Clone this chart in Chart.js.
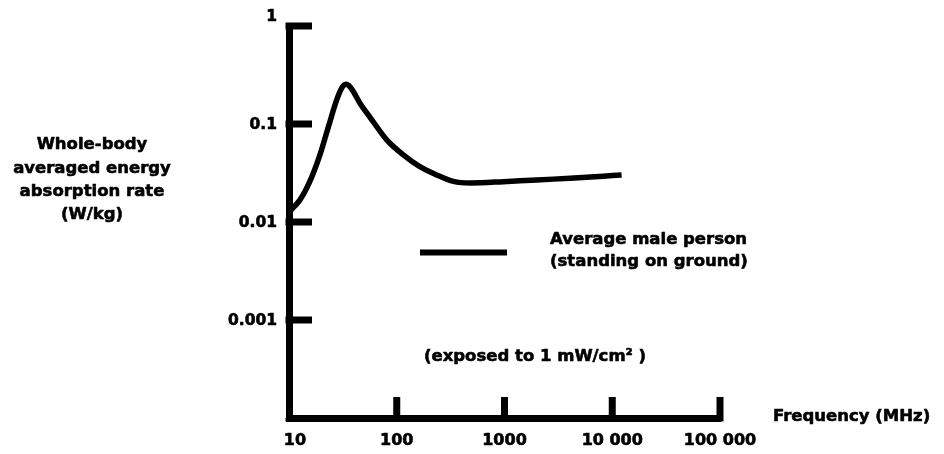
<!DOCTYPE html>
<html>
<head>
<meta charset="utf-8">
<script src="https://cdn.jsdelivr.net/npm/chart.js@4/dist/chart.umd.min.js"></script>
<style>
html,body{margin:0;padding:0;background:#fff;}
#c{display:block;}
</style>
</head>
<body>
<canvas id="c" width="944" height="454"></canvas>
<script>
// ---- data ----
const frequencyMHz = [10, 12.5, 15.5, 19.2, 23.5, 27.5, 31, 33.8, 37, 41, 46, 56.5, 80.7, 115, 164, 235, 335, 479, 975, 1990, 4055, 8260, 12200];
const sarWkg = [0.0127, 0.0165, 0.0255, 0.0470, 0.098, 0.172, 0.235, 0.254, 0.238, 0.200, 0.160, 0.117, 0.0689, 0.0484, 0.0367, 0.0302, 0.0260, 0.0250, 0.0258, 0.0269, 0.0279, 0.0293, 0.0302];

const xTickValues = [10, 100, 1000, 10000, 100000];
const xTickLabels = ['10', '100', '1000', '10 000', '100 000'];
const yTickValues = [1, 0.1, 0.01, 0.001];
const yTickLabels = ['1', '0.1', '0.01', '0.001'];

const seriesLabelLines = ['Average male person', '(standing on ground)'];
const yTitleLines = ['Whole-body', 'averaged energy', 'absorption rate', '(W/kg)'];
const xTitle = 'Frequency (MHz)';
const noteText = '(exposed to 1 mW/cm\u00B2 )';

const FONT = '"DejaVu Sans", "Liberation Sans", Arial, sans-serif';

function heavyText(ctx, t, x, y) {
  ctx.fillText(t, x, y);
  ctx.strokeText(t, x, y);
}

const decor = {
  id: 'decor',
  afterDraw(chart) {
    const ctx = chart.ctx;
    const xs = chart.scales.x, ys = chart.scales.y;
    const area = chart.chartArea;
    ctx.save();
    ctx.fillStyle = '#000';
    ctx.strokeStyle = '#000';
    // corner fill
    ctx.fillRect(area.left - 3.5, area.bottom, 3.5, 3.5);
    // y ticks (pointing right)
    yTickValues.forEach(v => {
      const p = ys.getPixelForValue(v);
      ctx.fillRect(area.left - 3.5, p - 3.5, 312 - (area.left - 3.5), 7);
    });
    // x ticks (pointing up)
    xTickValues.forEach((v, i) => {
      if (i === 0) return;
      const p = xs.getPixelForValue(v);
      ctx.fillRect(p - 3.5, 397, 7, area.bottom + 3.5 - 397);
    });
    ctx.lineWidth = 0.6;
    ctx.lineJoin = 'round';
    // x tick labels
    ctx.font = 'bold 16px ' + FONT;
    ctx.textAlign = 'center';
    ctx.textBaseline = 'middle';
    xTickValues.forEach((v, i) => {
      const p = xs.getPixelForValue(v) + (i === 0 ? 6 : 0);
      heavyText(ctx, xTickLabels[i], p, 441);
    });
    // y tick labels
    ctx.font = 'bold 15.5px ' + FONT;
    ctx.textAlign = 'right';
    yTickValues.forEach((v, i) => {
      const p = ys.getPixelForValue(v) + (i === 0 ? -9 : 1);
      heavyText(ctx, yTickLabels[i], 277, p);
    });
    // y title
    ctx.font = 'bold 16.5px ' + FONT;
    ctx.textAlign = 'center';
    yTitleLines.forEach((t, i) => heavyText(ctx, t, 92, 145 + i * 23.3));
    // x title
    ctx.textAlign = 'left';
    heavyText(ctx, xTitle, 773, 417);
    // legend
    const ds = chart.data.datasets[0];
    ctx.save();
    ctx.strokeStyle = ds.borderColor;
    ctx.lineWidth = 6;
    ctx.beginPath();
    ctx.moveTo(420, 252.5);
    ctx.lineTo(507, 252.5);
    ctx.stroke();
    ctx.restore();
    heavyText(ctx, seriesLabelLines[0], 550, 240);
    heavyText(ctx, seriesLabelLines[1], 550, 262);
    // note
    ctx.textAlign = 'center';
    heavyText(ctx, noteText, 535, 357);
    ctx.restore();
  }
};

new Chart(document.getElementById('c'), {
  type: 'line',
  data: {
    datasets: [{
      label: seriesLabelLines.join(' '),
      data: frequencyMHz.map((f, i) => ({x: f, y: sarWkg[i]})),
      borderColor: '#000',
      borderWidth: 5.5,
      pointRadius: 0,
      fill: false,
      tension: 0.3,
      borderCapStyle: 'butt',
      borderJoinStyle: 'round'
    }]
  },
  options: {
    responsive: false,
    animation: false,
    devicePixelRatio: 1,
    layout: {padding: {top: 26, right: 224, left: 0, bottom: 0}},
    plugins: {legend: {display: false}, tooltip: {enabled: false}},
    scales: {
      x: {
        type: 'logarithmic', min: 10, max: 100000,
        grid: {display: false, drawTicks: false},
        ticks: {display: false},
        border: {display: true, width: 7, color: '#000'},
        afterFit(s) { s.height = 36; }
      },
      y: {
        type: 'logarithmic', min: 0.0001, max: 1,
        grid: {display: false, drawTicks: false},
        ticks: {display: false},
        border: {display: true, width: 7, color: '#000'},
        afterFit(s) { s.width = 289; }
      }
    }
  },
  plugins: [decor]
});
</script>
</body>
</html>
